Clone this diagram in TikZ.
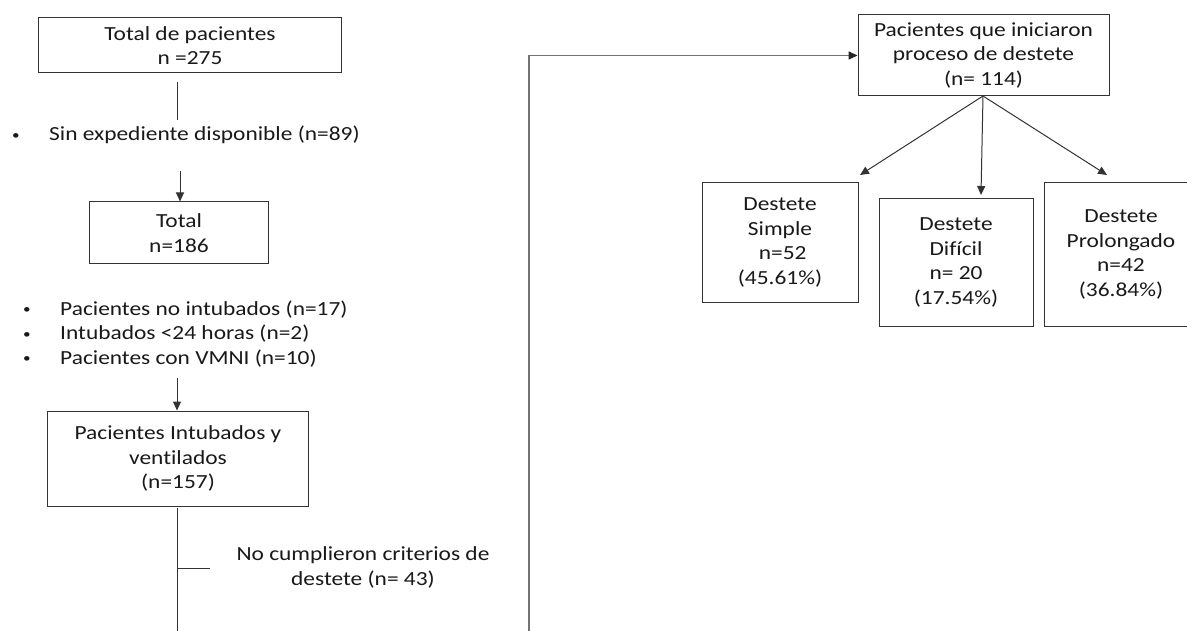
\documentclass[tikz,border=0pt]{standalone}
\usepackage{fontspec}
\setmainfont{Carlito}[FakeStretch=1.17, Ligatures={NoCommon}]
\usetikzlibrary{arrows.meta}
\newcommand{\mybul}{\makebox[37bp][l]{\raisebox{1.5bp}{\scalebox{0.65}{\textbullet}}}}
\begin{document}
\begin{tikzpicture}[x=1bp,y=-1bp,
  every node/.style={font=\fontsize{20bp}{24.5bp}\selectfont, text=black!90},
  box/.style={draw=black!80, line width=1bp, align=center, inner sep=0pt},
  conn/.style={draw=black!80, line width=1bp},
  arr/.style={conn, -{Triangle[length=9bp,width=8bp]}},
  longc/.style={draw=black!55, line width=1.6bp, -{Triangle[length=9bp,width=8bp,color=black!85]}}
]
\useasboundingbox (0,0) rectangle (1187,631);
\clip (0,0) rectangle (1187,631);
\fill[white] (0,0) rectangle (1187,631);

% left column boxes
\node[box, minimum width=302bp, minimum height=55bp] (b1) at (190,45.5) {Total de pacientes\\n =275};
\node[box, minimum width=178bp, minimum height=62bp] (b2) at (179,233) {Total\\n=186};
\node[box, minimum width=260bp, minimum height=95bp] (b3) at (178,458.5) {Pacientes Intubados y\\ventilados\\(n=157)};

% exclusion texts
\node[anchor=west, inner sep=0pt] (sin) at (12,135) {\mybul Sin expediente disponible (n=89)};
\node[anchor=west, inner sep=0pt, align=left] (lst) at (23,334) {\mybul Pacientes no intubados (n=17)\\\mybul Intubados <24 horas (n=2)\\\mybul Pacientes con VMNI (n=10)};
\node[align=center, inner sep=0pt] (nocump) at (363,567.5) {No cumplieron criterios de\\destete (n= 43)};

% right side boxes
\node[box, minimum width=251bp, minimum height=81bp] (top) at (983.5,55.5) {Pacientes que iniciaron\\proceso de destete\\(n= 114)};
\node[box, minimum width=156bp, minimum height=119bp] (simple) at (780,242.5) {Destete\\Simple\\\ n=52\\(45.61\%)};
\node[box, minimum width=154bp, minimum height=127bp] (dificil) at (956,262.5) {Destete\\Difícil\\n= 20\\(17.54\%)};
\node[box, minimum width=154bp, minimum height=143bp] (prolong) at (1121,254.5) {Destete\\Prolongado\\n=42\\(36.84\%)};

% coordinates for free ends
\coordinate (a1) at (177,82);
\coordinate (a2) at (177,120);
\coordinate (a3) at (180,171);
\coordinate (a4) at (177,378);
\coordinate (a5) at (177,508);
\coordinate (a6) at (177,645);
\coordinate (br) at (177,568);
\coordinate (brend) at (210,568);
\coordinate (c1) at (529,645);
\coordinate (c2) at (529,55.5);
\coordinate (t1) at (860,175);
\coordinate (t2) at (981,195);
\coordinate (t3) at (1107,175);
\coordinate (ts) at (983,96);

% connectors
\draw[conn] (a1) -- (a2);
\draw[arr] (a3) -- (a3 |- b2.north);
\draw[arr] (a4) -- (a4 |- b3.north);
\draw[conn] (a5) -- (a6);
\draw[conn] (br) -- (brend);
\draw[longc] (c1) -- (c2) -- (top.west);
\draw[arr] (ts) -- (t1);
\draw[arr] (ts) -- (t2);
\draw[arr] (ts) -- (t3);
\end{tikzpicture}
\end{document}
